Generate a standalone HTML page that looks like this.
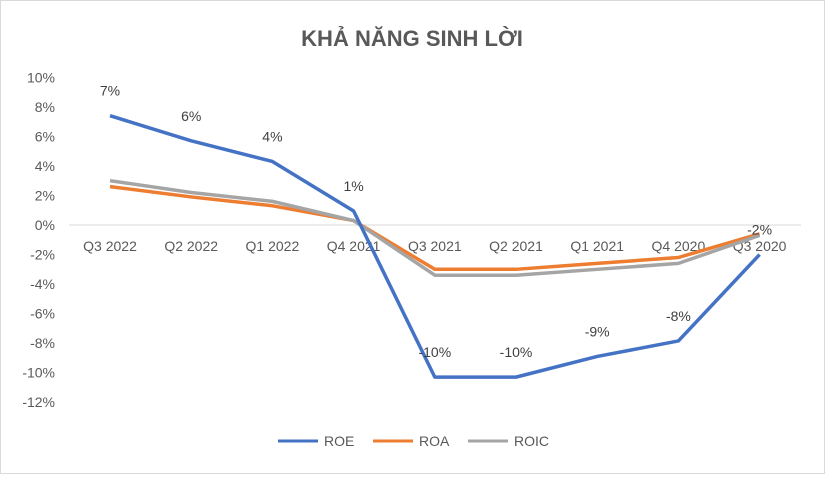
<!DOCTYPE html>
<html><head><meta charset="utf-8"><style>
body{margin:0;background:#fff;font-family:"Liberation Sans",sans-serif;}
svg text{font-family:"Liberation Sans","Noto Sans CJK SC",sans-serif;}
</style></head><body>
<svg id="chart" width="825" height="474" xmlns="http://www.w3.org/2000/svg">
<rect x="0.5" y="0.5" width="824" height="473" fill="#fff" stroke="#d9d9d9"/>
<text x="412" y="46" text-anchor="middle" font-size="22" font-weight="bold" fill="#595959">KHẢ NĂNG SINH LỜI</text>
<g id="yaxis"></g><g id="xaxis"></g><g id="series"></g><g id="labels"></g>
<g>
<line x1="278" y1="441" x2="318" y2="441" stroke="#4472c4" stroke-width="3"/>
<text x="324" y="446" font-size="14" fill="#595959">ROE</text>
<line x1="373" y1="441" x2="413" y2="441" stroke="#ed7d31" stroke-width="3"/>
<text x="419" y="446" font-size="14" fill="#595959">ROA</text>
<line x1="468" y1="441" x2="508" y2="441" stroke="#a5a5a5" stroke-width="3"/>
<text x="514" y="446" font-size="14" fill="#595959">ROIC</text>
</g>
</svg>
<script>
const categories=["Q3 2022","Q2 2022","Q1 2022","Q4 2021","Q3 2021","Q2 2021","Q1 2021","Q4 2020","Q3 2020"];
const roe=[7.4,5.7,4.3,0.95,-10.3,-10.3,-8.9,-7.85,-2.0];
const roa=[2.6,1.9,1.3,0.3,-3.0,-3.0,-2.6,-2.2,-0.6];
const roic=[3.0,2.2,1.6,0.3,-3.4,-3.4,-3.0,-2.6,-0.7];
const roeLabels=["7%","6%","4%","1%","-10%","-10%","-9%","-8%","-2%"];
const yTicks=[10,8,6,4,2,0,-2,-4,-6,-8,-10,-12];
const NS="http://www.w3.org/2000/svg";
const y=v=>225-v*14.77;
const x=i=>110+i*81.2;
function mk(tag,attrs,parent,txt){const e=document.createElementNS(NS,tag);for(const k in attrs)e.setAttribute(k,attrs[k]);if(txt!==undefined)e.textContent=txt;document.getElementById(parent).appendChild(e);return e;}
yTicks.forEach(t=>{const e=mk("text",{x:55,y:y(t)+5,"text-anchor":"end","font-size":"14",fill:"#595959"},"yaxis",t+"%");

});
const ax=mk("line",{x1:69,y1:y(0),x2:801,y2:y(0),stroke:"#d9d9d9"},"xaxis");


categories.forEach((c,i)=>{const e=mk("text",{x:x(i),y:251,"text-anchor":"middle","font-size":"14",fill:"#595959"},"xaxis",c);

});
[[roa,"#ed7d31","roa-line"],[roic,"#a5a5a5","roic-line"],[roe,"#4472c4","roe-line"]].forEach(([d,col,n])=>{
const p=mk("polyline",{points:d.map((v,i)=>x(i)+","+y(v)).join(" "),fill:"none",stroke:col,"stroke-width":"3.5","stroke-linejoin":"round"},"series");

});
roe.forEach((v,i)=>{const e=mk("text",{x:x(i),y:y(v)-20,"text-anchor":"middle","font-size":"14",fill:"#404040"},"labels",roeLabels[i]);

});
</script>
</body></html>
